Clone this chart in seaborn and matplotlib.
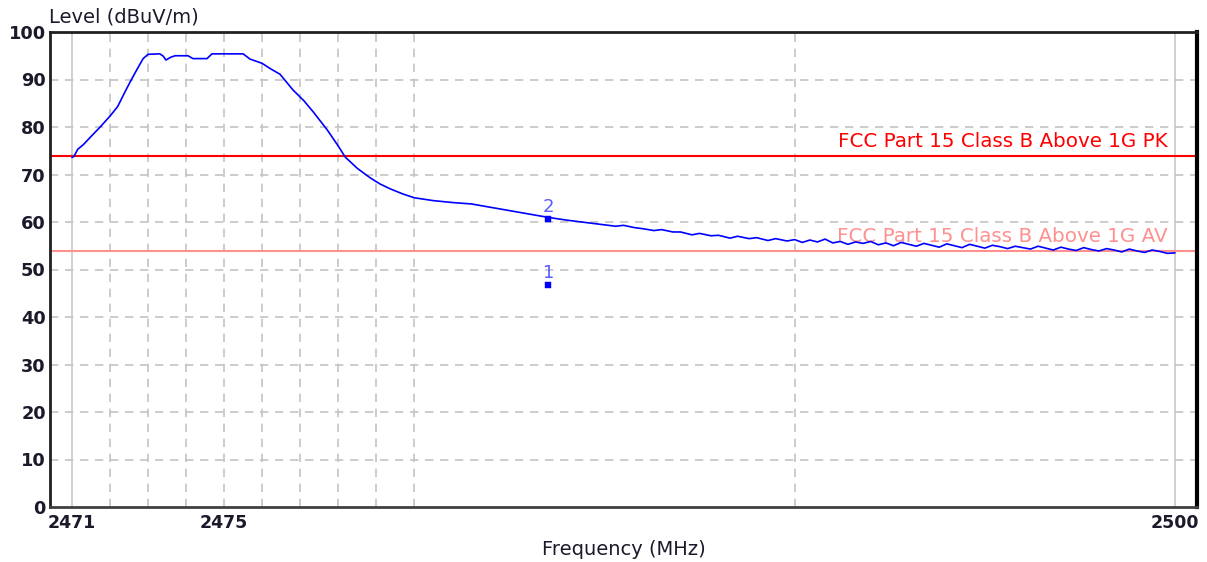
import matplotlib
matplotlib.use("Agg")
import matplotlib.pyplot as plt
import seaborn as sns
import pandas as pd

# ---------------- data ----------------
freq_mhz = [
    2471.00, 2471.05, 2471.15, 2471.30, 2471.50, 2471.74, 2472.00, 2472.20, 2472.40, 2472.53,
    2472.70, 2472.87, 2473.00, 2473.31, 2473.40, 2473.47, 2473.60, 2473.71, 2474.05, 2474.18,
    2474.55, 2474.68, 2475.00, 2475.50, 2475.68, 2476.00, 2476.21, 2476.47, 2476.81, 2477.10,
    2477.34, 2477.71, 2478.00, 2478.18, 2478.50, 2478.84, 2479.10, 2479.36, 2479.70, 2480.00,
    2480.50, 2481.00, 2481.50, 2482.00, 2482.50, 2483.00, 2483.50, 2484.00, 2484.50, 2485.00,
    2485.30, 2485.50, 2485.80, 2486.00, 2486.30, 2486.50, 2486.80, 2487.00, 2487.30, 2487.50,
    2487.80, 2488.00, 2488.30, 2488.50, 2488.80, 2489.00, 2489.30, 2489.50, 2489.80, 2490.00,
    2490.20, 2490.40, 2490.60, 2490.80, 2491.00, 2491.20, 2491.40, 2491.60, 2491.80, 2492.00,
    2492.20, 2492.40, 2492.60, 2492.80, 2493.00, 2493.20, 2493.40, 2493.60, 2493.80, 2494.00,
    2494.20, 2494.40, 2494.60, 2494.80, 2495.00, 2495.20, 2495.40, 2495.60, 2495.80, 2496.00,
    2496.20, 2496.40, 2496.60, 2496.80, 2497.00, 2497.20, 2497.40, 2497.60, 2497.80, 2498.00,
    2498.20, 2498.40, 2498.60, 2498.80, 2499.00, 2499.20, 2499.40, 2499.60, 2499.80, 2500.00,
]
level_dbuv = [
    73.6, 73.8, 75.3, 76.3, 78.0, 80.0, 82.3, 84.3, 87.5, 89.5,
    92.0, 94.4, 95.3, 95.4, 94.9, 94.1, 94.7, 95.0, 95.0, 94.4,
    94.4, 95.4, 95.4, 95.4, 94.3, 93.4, 92.3, 91.1, 87.8, 85.5,
    83.2, 79.4, 76.0, 73.7, 71.3, 69.3, 68.0, 67.0, 65.9, 65.1,
    64.5, 64.1, 63.8, 63.1, 62.4, 61.7, 61.0, 60.4, 59.9, 59.4,
    59.1, 59.3, 58.8, 58.6, 58.2, 58.4, 57.9, 57.9, 57.3, 57.6,
    57.1, 57.2, 56.6, 57.0, 56.5, 56.7, 56.1, 56.5, 56.0, 56.3,
    55.7, 56.2, 55.8, 56.4, 55.6, 55.9, 55.3, 55.8, 55.5, 55.9,
    55.2, 55.6, 55.0, 55.7, 55.3, 54.9, 55.5, 55.1, 54.7, 55.4,
    55.0, 54.6, 55.3, 54.9, 54.5, 55.1, 54.8, 54.4, 54.9, 54.6,
    54.3, 54.9, 54.5, 54.1, 54.7, 54.3, 54.0, 54.6, 54.2, 53.9,
    54.4, 54.1, 53.7, 54.3, 53.9, 53.6, 54.1, 53.8, 53.4, 53.5,
]

limit_pk = 74.0
limit_av = 54.0
limit_pk_label = "FCC Part 15 Class B Above 1G PK"
limit_av_label = "FCC Part 15 Class B Above 1G AV"

marker_ids = ["1", "2"]
marker_freq = [2483.52, 2483.52]
marker_level = [46.7, 60.6]

x_ticks = [2471, 2475, 2500]
x_grid = [2472, 2473, 2474, 2475, 2476, 2477, 2478, 2479, 2480, 2490]
x_grid_solid = [2471, 2500]
y_ticks = [0, 10, 20, 30, 40, 50, 60, 70, 80, 90, 100]

# ---------------- plot ----------------
sns.set_style("white")
plt.rcParams["font.family"] = ["DejaVu Sans"]

fig = plt.figure(figsize=(12.07, 5.62), dpi=100)
ax = fig.add_axes([50 / 1207, 1 - 507 / 562, 1147 / 1207, 475 / 562])

# grid
for gx in x_grid:
    ax.axvline(gx, color="#c4c4c4", lw=1.2, ls=(0, (5, 4)), zorder=0)
for gx in x_grid_solid:
    ax.axvline(gx, color="#c8c8c8", lw=1.2, zorder=0)
for gy in y_ticks[1:-1]:
    ax.axhline(gy, color="#c4c4c4", lw=1.2, ls=(0, (5, 4)), zorder=0)

# limit lines
ax.axhline(limit_pk, color="#ff0000", lw=1.5, zorder=2)
ax.axhline(limit_av, color="#ff9090", lw=1.5, zorder=2)

df = pd.DataFrame({"Frequency": freq_mhz, "Level": level_dbuv})
sns.lineplot(data=df, x="Frequency", y="Level", color="#0000ff", lw=1.2, ax=ax, zorder=3)

mk = pd.DataFrame({"id": marker_ids, "f": marker_freq, "l": marker_level})
sns.scatterplot(data=mk, x="f", y="l", marker="s", s=14, color="#0000ff",
                edgecolor="#0000ff", ax=ax, zorder=4)
for _, r in mk.iterrows():
    ax.annotate(r["id"], (r["f"], r["l"]), xytext=(0, 2), textcoords="offset points",
                ha="center", va="bottom", color="#5a5aff", fontsize=13, zorder=5)

ax.text(2499.8, limit_pk + 0.9, limit_pk_label, color="#ff0000", ha="right",
        va="bottom", fontsize=14.3, zorder=1)
ax.text(2499.8, limit_av + 0.9, limit_av_label, color="#ff9090", ha="right",
        va="bottom", fontsize=14.3, zorder=1)

ax.set_xlim(2471 - 22 / 38.03, 2500 + 22 / 38.03)
ax.set_ylim(0, 100)
ax.set_xticks(x_ticks)
ax.set_xticklabels([str(t) for t in x_ticks], fontsize=12.5, fontweight="bold", color="#1a1a2a")
ax.set_yticks(y_ticks)
ax.set_yticklabels([str(t) for t in y_ticks], fontsize=12.8, fontweight="bold", color="#1a1a2a")
ax.tick_params(axis="x", length=0, pad=5)
ax.tick_params(axis="y", length=0, pad=3)
ax.set_xlabel("Frequency (MHz)", fontsize=14, color="#1a1a2a", labelpad=6)
ax.set_ylabel("")
fig.text(49 / 1207, 1 - 17 / 562, "Level (dBuV/m)", fontsize=14, color="#1a1a2a",
         ha="left", va="center")

for side, w, c in [("left", 2.0, "#202020"), ("top", 2.0, "#202020"),
                   ("right", 3.0, "#000000"), ("bottom", 2.0, "#404040")]:
    ax.spines[side].set_visible(True)
    ax.spines[side].set_linewidth(w)
    ax.spines[side].set_color(c)

fig.savefig("out.png", dpi=100)
